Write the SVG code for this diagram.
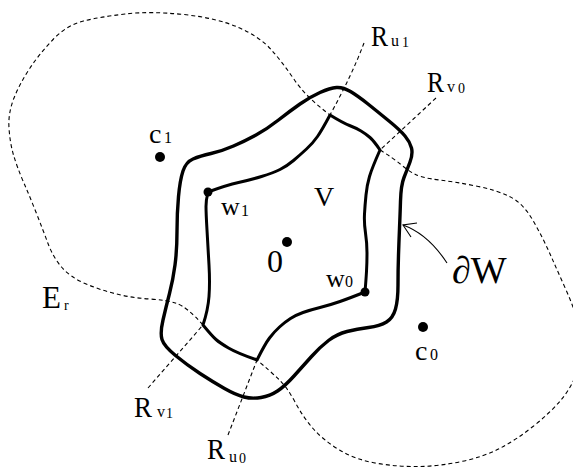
<svg xmlns="http://www.w3.org/2000/svg" width="573" height="467" viewBox="0 0 573 467">
<style>
.dash{fill:none;stroke:#000;stroke-width:1.1;stroke-dasharray:4 3}
.thick{fill:none;stroke:#000;stroke-width:3.4;stroke-linejoin:round;stroke-linecap:round}
.thin{fill:none;stroke:#000;stroke-width:1.1}
.dot{fill:#000}
text{font-family:"Liberation Serif","Times New Roman",serif;fill:#000}
.big{font-size:30px}
.mid{font-size:28px}
.sub{font-size:16px}
.ss{font-size:14px}
</style>
<rect width="573" height="467" fill="#fff"/>
<g id="region-Er">
<path class="dash" d="M380,150 Q393,158 401.5,165 Q410,172 416.5,175 Q423,178 439.5,180 Q456,182 476,186 Q496,190 509.5,196.5 Q523,203 533,220.5 Q543,238 550.5,255 Q558,272 566.5,291 Q575,310 580,330 Q585,350 578.5,368.5 Q572,387 561,400 Q550,413 533,426.5 Q516,440 499.5,448.5 Q483,457 461.5,461.5 Q440,466 420,466.5 Q400,467 378,463.5 Q356,460 339.5,450 Q323,440 313,428.5 Q303,417 295,402 Q287,387 278.5,379 Q270,371 257,360"/>
<path class="dash" d="M203,325 Q187,307 177,303.5 Q167,300 150,299 Q133,298 116.5,294 Q100,290 85,283.5 Q70,277 61.5,267 Q53,257 48,243.5 Q43,230 36.5,213.5 Q30,197 23.5,182 Q17,167 13.5,155 Q10,143 9,128 Q8,113 14,98 Q20,83 30,68 Q40,53 53.5,39 Q67,25 83.5,21 Q100,17 125,14 Q150,11 183.5,14.5 Q217,18 238.5,27.5 Q260,37 271.5,50 Q283,63 294.5,80 Q306,97 330,115"/>
<text x="42" y="308" style="font-size:31px">E</text>
<text x="64" y="310" class="ss">r</text>
</g>
<g id="connectors">
<path class="dash" d="M364,43 Q352,75 330,115"/>
<path class="dash" d="M436,98 L380,150"/>
<path class="dash" d="M148,388 L203,325"/>
<path class="dash" d="M228,435 L257,360"/>
<path class="thin" d="M447,263 Q428,234 403,225"/>
<polyline class="thin" points="417,223 403,225 411,237"/>
</g>
<g id="boundary-W">
<path class="thick" d="M336.5,87.5 Q343,87 350.5,91.5 Q358,96 368,104 Q378,112 389,121 Q400,130 405,136 Q410,142 411.5,148 Q413,154 410,162 Q407,170 404,177.5 Q401,185 400.5,201 Q400,217 399.5,228.5 Q399,240 398.5,255 Q398,270 398,285 Q398,300 395.5,309 Q393,318 386.5,322 Q380,326 368.5,327.5 Q357,329 347,331.5 Q337,334 328.5,340.5 Q320,347 311.5,356.5 Q303,366 294,376 Q285,386 277.5,391 Q270,396 261,397.5 Q252,399 244,397 Q236,395 224.5,388.5 Q213,382 200,373.5 Q187,365 175.5,355.5 Q164,346 162,339.5 Q160,333 163,320 Q166,307 169.5,293.5 Q173,280 175,265 Q177,250 177,231.5 Q177,213 178.5,196.5 Q180,180 183,171 Q186,162 193,159 Q200,156 211,153.5 Q222,151 233.5,146 Q245,141 256,135 Q267,129 278.5,120 Q290,111 300,104 Q310,97 320,92.5 Q330,88 336.5,87.5 Z"/>
<text x="452" y="283" style="font-size:38px">∂W</text>
</g>
<g id="region-V">
<path class="thick" style="stroke-width:3" d="M208,192 Q227,185 238.5,182.5 Q250,180 261.5,176.5 Q273,173 280,169.5 Q287,166 293.5,160.5 Q300,155 306.5,149 Q313,143 317.5,136.5 Q322,130 330,115 Q343,123 349.5,125.5 Q356,128 361,131 Q366,134 370,137.5 Q374,141 380,150 Q372,168 369.5,176.5 Q367,185 366,195 Q365,205 364.5,214 Q364,223 365.5,233 Q367,243 367,253 Q367,263 366.5,271.5 Q366,280 365,292 Q350,298 340,301.5 Q330,305 320,307.5 Q310,310 303,312.5 Q296,315 290.5,318.5 Q285,322 279.5,327 Q274,332 269.5,338 Q265,344 257,360 Q237,353 228.5,348 Q220,343 216,339.5 Q212,336 203,325 Q208,310 209,296.5 Q210,283 209,265 Q208,247 207,230 Q206,213 206,206.5 Q206,200 208,192 Z"/>
<text x="314" y="206" class="mid">V</text>
</g>
<g id="point-0">
<circle class="dot" cx="287" cy="242" r="5"/>
<text x="267" y="272" style="font-size:32px">0</text>
</g>
<g id="point-c1">
<circle class="dot" cx="160" cy="157" r="5"/>
<text x="149" y="143" class="mid">c</text>
<text x="164" y="143" class="sub">1</text>
</g>
<g id="point-c0">
<circle class="dot" cx="423" cy="327" r="5"/>
<text x="415" y="360" class="mid">c</text>
<text x="430" y="360" class="sub">0</text>
</g>
<g id="point-w1">
<circle class="dot" cx="208" cy="192" r="4.5"/>
<text x="221" y="215" style="font-size:26px">w</text>
<text x="241" y="216" class="sub">1</text>
</g>
<g id="point-w0">
<circle class="dot" cx="365" cy="292" r="4.5"/>
<text x="326" y="287" style="font-size:26px">w</text>
<text x="345" y="287" class="sub">0</text>
</g>
<g id="label-Ru1">
<text x="371" y="46" class="big" textLength="17" lengthAdjust="spacingAndGlyphs">R</text>
<text x="391" y="46" class="sub">u</text>
<text x="402" y="47" class="ss">1</text>
</g>
<g id="label-Rv0">
<text x="427" y="92" class="big" textLength="17" lengthAdjust="spacingAndGlyphs">R</text>
<text x="447" y="92" class="sub">v</text>
<text x="458" y="93" class="ss">0</text>
</g>
<g id="label-Rv1">
<text x="134" y="417" class="big" textLength="18" lengthAdjust="spacingAndGlyphs">R</text>
<text x="157" y="417" class="sub">v</text>
<text x="166" y="418" class="ss">1</text>
</g>
<g id="label-Ru0">
<text x="207" y="459" class="big" textLength="18" lengthAdjust="spacingAndGlyphs">R</text>
<text x="229" y="462" class="sub">u</text>
<text x="239" y="463" class="ss">0</text>
</g>
</svg>
